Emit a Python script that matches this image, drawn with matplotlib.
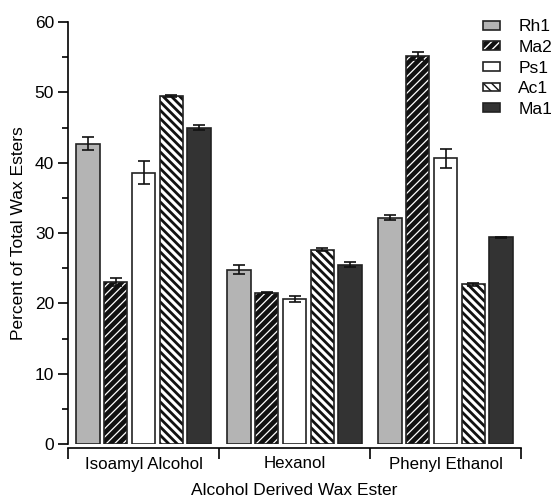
import matplotlib
matplotlib.use("Agg")
import matplotlib.pyplot as plt
import numpy as np
from matplotlib.patches import Patch

plt.rcParams['font.family'] = ['Liberation Sans', 'DejaVu Sans']
plt.rcParams['hatch.linewidth'] = 1.0

categories = ["Isoamyl Alcohol", "Hexanol", "Phenyl Ethanol"]
series = ["Rh1", "Ma2", "Ps1", "Ac1", "Ma1"]
rh1 = [42.7, 24.8, 32.2]
ma2 = [23.0, 21.5, 55.2]
ps1 = [38.6, 20.6, 40.6]
ac1 = [49.5, 27.6, 22.7]
ma1 = [45.0, 25.5, 29.4]
rh1_err = [0.9, 0.7, 0.3]
ma2_err = [0.6, 0.1, 0.6]
ps1_err = [1.6, 0.4, 1.3]
ac1_err = [0.1, 0.2, 0.2]
ma1_err = [0.4, 0.4, 0.1]
values = [rh1, ma2, ps1, ac1, ma1]
errors = [rh1_err, ma2_err, ps1_err, ac1_err, ma1_err]

styles = [
    dict(face="#b4b4b4", hatch=None, hcol=None, hlw=1.0),
    dict(face="#111111", hatch="////", hcol="white", hlw=0.9),
    dict(face="white", hatch=None, hcol=None, hlw=1.0),
    dict(face="white", hatch="\\\\\\\\", hcol="#111111", hlw=2.0),
    dict(face="#333333", hatch=None, hcol=None, hlw=1.0),
]

fig = plt.figure(figsize=(5.56, 4.97), dpi=100)
ax = fig.add_axes([68/556, 1-444/497, (521-68)/556, (444-22)/497])

x = np.arange(len(categories))
pitch = 0.185
width = 0.158
for i, (vals, errs, st) in enumerate(zip(values, errors, styles)):
    pos = x + (i - 2) * pitch
    if st["hatch"]:
        with plt.rc_context({'hatch.linewidth': st["hlw"]}):
            ax.bar(pos, vals, width, color=st["face"], edgecolor=st["hcol"],
                   hatch=st["hatch"], linewidth=0, zorder=2)
        ax.bar(pos, vals, width, fill=False, edgecolor="#222222",
               linewidth=1.2, zorder=3)
    else:
        ax.bar(pos, vals, width, color=st["face"], edgecolor="#222222",
               linewidth=1.2, zorder=2)
    ax.errorbar(pos, vals, yerr=errs, fmt="none", ecolor="#111111",
                elinewidth=1.2, capsize=4, capthick=1.2, zorder=4)

ax.set_xlim(-0.5, 2.5)
ax.set_ylim(0, 60)
ax.spines['top'].set_visible(False)
ax.spines['right'].set_visible(False)
ax.spines['left'].set_linewidth(1.2)
ax.spines['bottom'].set_linewidth(1.2)
ax.spines['bottom'].set_position(('outward', 3))

ax.set_yticks(np.arange(0, 61, 10))
ax.set_yticks(np.arange(5, 60, 10), minor=True)
ax.tick_params(axis='y', which='major', direction='out', length=7, width=1.2,
               labelsize=12.5, pad=3)
ax.tick_params(axis='y', which='minor', direction='out', length=4, width=1.2)

ax.set_xticks([-0.5, 0.5, 1.5, 2.5])
ax.set_xticklabels([])
ax.set_xticks(x, minor=True)
ax.set_xticklabels(categories, minor=True)
ax.tick_params(axis='x', which='major', direction='out', length=8, width=1.2)
ax.tick_params(axis='x', which='minor', length=0, labelsize=12.2, pad=6)

ax.set_ylabel("Percent of Total Wax Esters", fontsize=12.5, labelpad=6)
ax.set_xlabel("Alcohol Derived Wax Ester", fontsize=12.5, labelpad=8)

handles = []
for name, st in zip(series, styles):
    if st["hatch"]:
        with plt.rc_context({'hatch.linewidth': st["hlw"]}):
            hp = Patch(facecolor=st["face"], edgecolor=st["hcol"],
                       hatch=st["hatch"], linewidth=0)
        op = Patch(fill=False, edgecolor="#222222", linewidth=1.2)
        handles.append((hp, op))
    else:
        handles.append(Patch(facecolor=st["face"], edgecolor="#222222",
                             linewidth=1.2))
ax.legend(handles=handles, labels=series, loc='upper left',
          bbox_to_anchor=(0.916, 1.006),
          frameon=False, fontsize=12.5, handlelength=1.0, handleheight=0.4,
          handletextpad=1.03, labelspacing=0.32, borderpad=0, borderaxespad=0)

fig.savefig("out.png", dpi=100)
